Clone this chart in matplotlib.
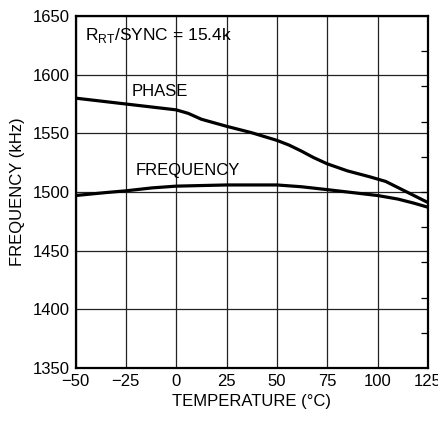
import matplotlib
matplotlib.use('Agg')
import matplotlib.pyplot as plt

plt.rcParams['font.family'] = ['Liberation Sans', 'DejaVu Sans']

# temperature (C)
temp = [-50, -25, -10, 0, 6, 12.5, 25, 37.5, 50, 56, 62, 68, 75, 85, 96, 104, 111, 118, 125]
# phase-locked frequency (kHz)
phase = [1580, 1575, 1572, 1570, 1567, 1562, 1556, 1550.5, 1544, 1540, 1535, 1529.5, 1524, 1518, 1513, 1509, 1503, 1497, 1491]
# free-running frequency (kHz)
freq_temp = [-50, -35, -25, -12, 0, 25, 50, 62, 75, 90, 100, 110, 118, 125]
freq = [1497, 1499.5, 1501, 1503.5, 1505, 1506, 1506, 1504.5, 1502, 1499, 1497, 1494, 1490.5, 1487]

xticks = [-50, -25, 0, 25, 50, 75, 100, 125]
xlabels = ['\u221250', '\u221225', '0', '25', '50', '75', '100', '125']
yticks = [1350, 1400, 1450, 1500, 1550, 1600, 1650]

fig = plt.figure(figsize=(4.38, 4.23), dpi=100)
ax = fig.add_axes([75.5 / 438, 55 / 423, 352.5 / 438, 352 / 423])

ax.plot(temp, phase, color='black', lw=2.3, solid_capstyle='butt')
ax.plot(freq_temp, freq, color='black', lw=2.3, solid_capstyle='butt')

ax.set_xlim(-50, 125)
ax.set_ylim(1350, 1650)
ax.set_xticks(xticks)
ax.set_xticklabels(xlabels)
ax.set_yticks(yticks)
ax.grid(True, color='#222222', lw=0.9)
ax.tick_params(length=0, labelsize=12, pad=4)
for s in ax.spines.values():
    s.set_linewidth(1.6)

# unlabeled inward ticks on the right edge
ax2 = ax.twinx()
ax2.set_ylim(0, 10)
ax2.set_yticks(range(1, 10))
ax2.set_yticklabels([])
ax2.tick_params(axis='y', direction='in', length=5, width=0.9)
for s in ax2.spines.values():
    s.set_visible(False)

ax.set_xlabel('TEMPERATURE (\u00b0C)', fontsize=12, labelpad=4)
ax.set_ylabel('FREQUENCY (kHz)', fontsize=12, labelpad=6)

ax.text(-45.5, 1633, r'R$_{\mathregular{RT}}$/SYNC = 15.4k', fontsize=12.5, va='center')
ax.text(-22, 1586, 'PHASE', fontsize=12, va='center')
ax.text(-20, 1518, 'FREQUENCY', fontsize=12, va='center')

fig.savefig('out.png', dpi=100)
